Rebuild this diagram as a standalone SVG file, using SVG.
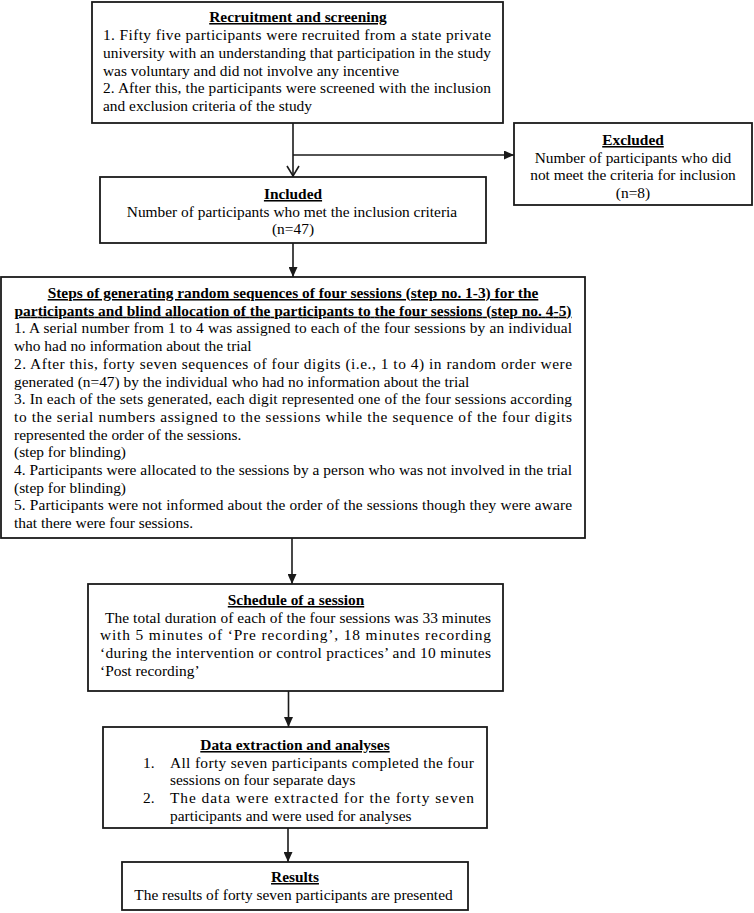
<svg xmlns="http://www.w3.org/2000/svg" width="754" height="913" viewBox="0 0 754 913">
<style>
rect.box{fill:#fff;stroke:#1a1a1a;stroke-width:1.8}
text{font-family:"Liberation Serif","Times New Roman",serif;font-size:15.4px;fill:#000}
.h{font-weight:bold;text-decoration:underline;text-anchor:middle}
.c{text-anchor:middle}
.ln{stroke:#1a1a1a;stroke-width:1.6;fill:none}
</style>
<defs>
<marker id="arr" markerUnits="userSpaceOnUse" markerWidth="10" markerHeight="9" refX="10" refY="4.5" orient="auto">
<path d="M0,0 L10,4.5 L0,9 z" fill="#1a1a1a"/>
</marker>
</defs>
<rect width="754" height="913" fill="#fff"/>
<g id="connectors">
<line class="ln" x1="293" y1="123" x2="293" y2="177"/>
<polyline class="ln" points="287,166 293,176 299,166"/>
<line class="ln" x1="293" y1="155" x2="514" y2="155" marker-end="url(#arr)"/>
<line class="ln" x1="293" y1="243" x2="293" y2="277" marker-end="url(#arr)"/>
<line class="ln" x1="292" y1="538" x2="292" y2="584" marker-end="url(#arr)"/>
<line class="ln" x1="288.5" y1="691" x2="288.5" y2="727" marker-end="url(#arr)"/>
<line class="ln" x1="288" y1="828" x2="288" y2="862" marker-end="url(#arr)"/>
</g>
<g id="recruitment">
<rect class="box" x="92" y="2" width="411" height="121"/>
<text class="h" x="298" y="22">Recruitment and screening</text>
<text x="103" y="40" textLength="388" lengthAdjust="spacing">1. Fifty five participants were recruited from a state private</text>
<text x="103" y="58" textLength="388" lengthAdjust="spacing">university with an understanding that participation in the study</text>
<text x="103" y="75.5">was voluntary and did not involve any incentive</text>
<text x="103" y="93" textLength="388" lengthAdjust="spacing">2. After this, the participants were screened with the inclusion</text>
<text x="103" y="111">and exclusion criteria of the study</text>
</g>
<g id="excluded">
<rect class="box" x="514" y="123" width="238" height="82"/>
<text class="h" x="633" y="145">Excluded</text>
<text class="c" x="633" y="162.7">Number of participants who did</text>
<text class="c" x="633" y="180.4">not meet the criteria for inclusion</text>
<text class="c" x="633" y="198.1">(n=8)</text>
</g>
<g id="included">
<rect class="box" x="100" y="177" width="386" height="66"/>
<text class="h" x="293" y="199">Included</text>
<text class="c" x="292" y="216.7">Number of participants who met the inclusion criteria</text>
<text class="c" x="293" y="234.4">(n=47)</text>
</g>
<g id="randomisation">
<rect class="box" x="1" y="277" width="584" height="261"/>
<text class="h" x="293" y="298">Steps of generating random sequences of four sessions (step no. 1-3) for the</text>
<text class="h" x="293" y="315.7" textLength="557" lengthAdjust="spacing">participants and blind allocation of the participants to the four sessions (step no. 4-5)</text>
<text x="14" y="333.4" textLength="558" lengthAdjust="spacing">1. A serial number from 1 to 4 was assigned to each of the four sessions by an individual</text>
<text x="14" y="351.1">who had no information about the trial</text>
<text x="14" y="368.8" textLength="558" lengthAdjust="spacing">2. After this, forty seven sequences of four digits (i.e., 1 to 4) in random order were</text>
<text x="14" y="386.5">generated (n=47) by the individual who had no information about the trial</text>
<text x="14" y="404.2" textLength="558" lengthAdjust="spacing">3. In each of the sets generated, each digit represented one of the four sessions according</text>
<text x="14" y="421.9" textLength="558" lengthAdjust="spacing">to the serial numbers assigned to the sessions while the sequence of the four digits</text>
<text x="14" y="439.6">represented the order of the sessions.</text>
<text x="14" y="457.3">(step for blinding)</text>
<text x="14" y="475" textLength="558" lengthAdjust="spacing">4. Participants were allocated to the sessions by a person who was not involved in the trial</text>
<text x="14" y="492.7">(step for blinding)</text>
<text x="14" y="510.4" textLength="558" lengthAdjust="spacing">5. Participants were not informed about the order of the sessions though they were aware</text>
<text x="14" y="528.1">that there were four sessions.</text>
</g>
<g id="schedule">
<rect class="box" x="88" y="584" width="415" height="107"/>
<text class="h" x="296" y="605">Schedule of a session</text>
<text x="105" y="622.7" textLength="386" lengthAdjust="spacing">The total duration of each of the four sessions was 33 minutes</text>
<text x="100" y="640.4" textLength="391" lengthAdjust="spacing">with 5 minutes of ‘Pre recording’, 18 minutes recording</text>
<text x="100" y="658.1" textLength="391" lengthAdjust="spacing">‘during the intervention or control practices’ and 10 minutes</text>
<text x="100" y="675.8">‘Post recording’</text>
</g>
<g id="data">
<rect class="box" x="103" y="727" width="384" height="101"/>
<text class="h" x="295" y="750">Data extraction and analyses</text>
<text x="143" y="767.7">1.</text>
<text x="170" y="767.7" textLength="304" lengthAdjust="spacing">All forty seven participants completed the four</text>
<text x="170" y="785.4">sessions on four separate days</text>
<text x="143" y="803.1">2.</text>
<text x="170" y="803.1" textLength="304" lengthAdjust="spacing">The data were extracted for the forty seven</text>
<text x="170" y="820.8">participants and were used for analyses</text>
</g>
<g id="results">
<rect class="box" x="122" y="862" width="346" height="48"/>
<text class="h" x="295" y="882">Results</text>
<text class="c" x="293.5" y="900">The results of forty seven participants are presented</text>
</g>
</svg>
